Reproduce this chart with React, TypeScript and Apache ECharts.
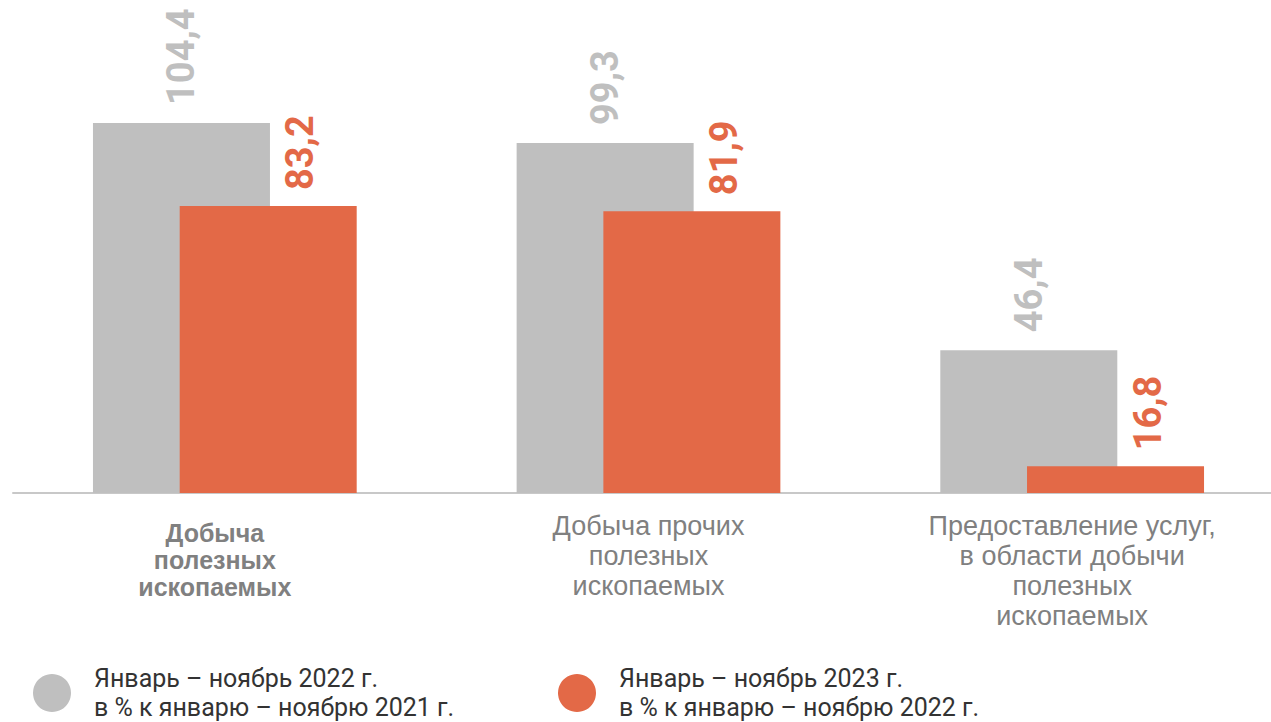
import React, { useEffect, useRef } from "react";
import * as echarts from "echarts";

const categories = [
  "Добыча\nполезных\nископаемых",
  "Добыча прочих\nполезных\nископаемых",
  "Предоставление услуг,\nв области добычи\nполезных\nископаемых",
];
const values2022 = [104.4, 99.3, 46.4];
const values2023 = [83.2, 81.9, 16.8];
const seriesNames = [
  "Январь – ноябрь 2022 г.\nв % к январю – ноябрю 2021 г.",
  "Январь – ноябрь 2023 г.\nв % к январю – ноябрю 2022 г.",
];

const GREY = "#bfbfbf";
const ORANGE = "#e36947";

export default function App() {
  const ref = useRef<HTMLDivElement>(null);
  useEffect(() => {
    document.body.style.margin = "0";
    const chart = echarts.init(ref.current!, null, { renderer: "svg" });
    const fmt = (p: any) => String(p.value).replace(".", ",");
    const legendText = {
      color: "#333333",
      fontFamily: "Roboto",
      fontSize: 25,
      lineHeight: 29,
      rich: {
        t: { fontFamily: "Roboto", fontSize: 25, lineHeight: 29, color: "#333333", padding: [0, 0, 0, 18] },
      },
    };
    const legendFmt = (name: string) =>
      name
        .split("\n")
        .map((l) => `{t|${l}}`)
        .join("\n");
    const legendBase = {
      top: 664,
      padding: 0,
      icon: "circle",
      itemWidth: 38,
      itemHeight: 38,
      textStyle: legendText,
      formatter: legendFmt,
      selectedMode: false,
    };
    chart.setOption({
      animation: false,
      grid: { left: 13, right: -13, top: 101, bottom: 229, outerBoundsMode: "none", containLabel: false },
      legend: [
        { ...legendBase, data: [seriesNames[0]], left: 33 },
        { ...legendBase, data: [seriesNames[1]], left: 558 },
      ],
      xAxis: {
        type: "category",
        data: categories,
        axisTick: { show: false },
        axisLine: { lineStyle: { color: "#c8c8c8", width: 2 } },
        axisLabel: {
          interval: 0,
          margin: 18,
          formatter: (value: string, index: number) => {
            const lines = value.split("\n");
            if (index === 0) {
              return ["{s| }", ...lines.map((l) => `{b|${l}}`)].join("\n");
            }
            return lines.map((l) => `{n|${l}}`).join("\n");
          },
          rich: {
            s: { fontSize: 1, lineHeight: 8 },
            b: {
              fontFamily: "Liberation Sans",
              fontWeight: "bold",
              fontSize: 25,
              lineHeight: 27,
              color: "#808080",
              padding: [0, 20, 0, 0],
            },
            n: {
              fontFamily: "Liberation Sans",
              fontSize: 27,
              lineHeight: 30,
              color: "#808080",
            },
          },
        },
      },
      yAxis: { type: "value", min: 10, max: 110, show: false, splitLine: { show: false } },
      series: [
        {
          name: seriesNames[0],
          type: "bar",
          data: values2022,
          barWidth: 177,
          barGap: "-51%",
          itemStyle: { color: GREY },
          label: {
            show: true,
            position: "top",
            distance: 18,
            rotate: 90,
            align: "left",
            verticalAlign: "middle",
            formatter: fmt,
            color: GREY,
            fontFamily: "Roboto",
            fontWeight: "bold",
            fontSize: 38,
          },
        },
        {
          name: seriesNames[1],
          type: "bar",
          data: values2023,
          barWidth: 177,
          itemStyle: { color: ORANGE },
          label: {
            show: true,
            position: "top",
            distance: 16,
            rotate: 90,
            align: "left",
            verticalAlign: "middle",
            offset: [0, 32],
            formatter: fmt,
            color: ORANGE,
            fontFamily: "Roboto",
            fontWeight: "bold",
            fontSize: 38,
          },
        },
      ],
    });
    return () => chart.dispose();
  }, []);
  return <div ref={ref} style={{ width: 1271, height: 722 }} />;
}
